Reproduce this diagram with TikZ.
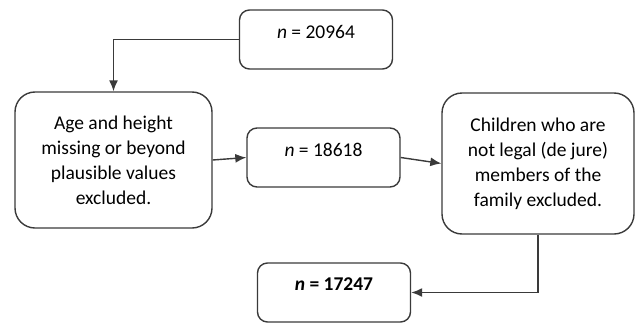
\documentclass[tikz,border=0pt]{standalone}
\usepackage{fontspec}
\setmainfont{Carlito}
\usepackage{tikz}
\usetikzlibrary{arrows.meta,positioning}
\definecolor{boxline}{HTML}{3A3A3A}

\begin{document}
\begin{tikzpicture}[x=1pt,y=-1pt]

% --- STYLES ---
\tikzset{
  countbox/.style={draw=boxline, line width=1.4pt, rounded corners=10pt,
                   minimum width=153pt, minimum height=59pt,
                   font=\fontsize{19.5}{25}\selectfont, text depth=16pt, inner sep=0pt},
  stepbox/.style={draw=boxline, line width=1.4pt, rounded corners=20pt,
                  align=center, font=\fontsize{19.5}{25}\selectfont, inner sep=0pt},
  flow/.style={boxline, line width=1.4pt, -{Latex[length=11pt, width=9pt]}},
}

% ================= CANVAS =================
\useasboundingbox (0,0) rectangle (636,324);

% ================= BOXES =================
\node[countbox] (start) at (316, 39.5) {\textit{n} = 20964};
\node[stepbox, minimum width=197pt, minimum height=136pt] (agecut) at (113.5, 160)
  {Age and height\\missing or beyond\\plausible values\\excluded.};
\node[countbox] (mid) at (323.5, 157.5) {\textit{n} = 18618};
\node[stepbox, minimum width=192pt, minimum height=141pt] (kidcut) at (538, 163.5)
  {Children who are\\not legal (de jure)\\members of the\\family excluded.};
\node[countbox, font=\fontsize{19.5}{25}\selectfont\bfseries] (final) at (334, 292.5)
  {\textbf{\textit{n}} = 17247};

% ================= CONNECTORS =================
\draw[flow] (start.west) -| (agecut.north);
\draw[flow] (agecut.east) -- (mid.west);
\draw[flow] (mid.east) -- (kidcut.west);
\draw[flow] (kidcut.south) |- (final.east);

\end{tikzpicture}
\end{document}
